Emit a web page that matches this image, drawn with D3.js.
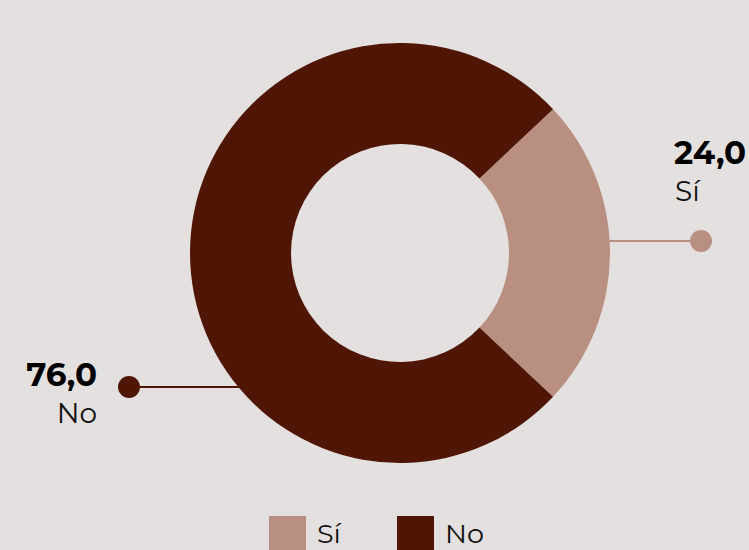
<!DOCTYPE html>
<html><head><meta charset="utf-8">
<script src="https://cdn.jsdelivr.net/npm/d3@7"></script>
<style>body{margin:0;background:#e4e0df;}svg{display:block;}</style>
</head><body>
<svg id="c" width="749" height="550"></svg>
<script>
const categories = ["Sí", "No"];
const values = [24.0, 76.0];
const colors = ["#b98f82", "#4f1505"];

const svg = d3.select("#c");
svg.append("rect").attr("width",749).attr("height",550).attr("fill","#e4e0df");
const cx = 400, cy = 253, R = 210, r = 109;
const data = categories.map((c,i)=>({cat:c, val:values[i], color:colors[i]}));
const offset = Math.PI/2 - (values[0]/100*Math.PI);
const pie = d3.pie().value(d=>d.val).sort(null).startAngle(offset).endAngle(offset+2*Math.PI);
const arc = d3.arc().innerRadius(r).outerRadius(R);
const g = svg.append("g").attr("transform",`translate(${cx},${cy})`);
g.selectAll("path").data(pie(data)).join("path").attr("d",arc).attr("fill",d=>d.data.color);

const font = "Montserrat, 'Open Sans', 'Noto Sans', sans-serif";
const fmt = v => d3.format(".1f")(v).replace(".", ",");

// Sí label (right)
svg.append("line").attr("x1",cx+R-1).attr("x2",701).attr("y1",241).attr("y2",241).attr("stroke",colors[0]).attr("stroke-width",2);
svg.append("circle").attr("cx",701).attr("cy",241).attr("r",11).attr("fill",colors[0]);
svg.append("text").attr("x",674).attr("y",164).attr("font-family",font).attr("font-weight",700).attr("font-size",32.5).attr("fill","#000").text(fmt(values[0]));
svg.append("text").attr("x",675).attr("y",201).attr("font-family",font).attr("font-size",28).attr("fill","#111").text(categories[0]);

// No label (left)
svg.append("line").attr("x1",129).attr("x2",240).attr("y1",387).attr("y2",387).attr("stroke",colors[1]).attr("stroke-width",2);
svg.append("circle").attr("cx",129).attr("cy",387).attr("r",11).attr("fill",colors[1]);
svg.append("text").attr("x",97).attr("y",386).attr("text-anchor","end").attr("font-family",font).attr("font-weight",700).attr("font-size",32.5).attr("fill","#000").text(fmt(values[1]));
svg.append("text").attr("x",97).attr("y",423).attr("text-anchor","end").attr("font-family",font).attr("font-size",28).attr("fill","#111").text(categories[1]);

// Legend
const lx = [269, 397];
data.forEach((d,i)=>{
  svg.append("rect").attr("x",lx[i]).attr("y",516).attr("width",37).attr("height",37).attr("fill",d.color);
  svg.append("text").attr("x",lx[i]+48).attr("y",543).attr("font-family",font).attr("font-size",27).attr("fill","#111").text(d.cat);
});
</script>
</body></html>
